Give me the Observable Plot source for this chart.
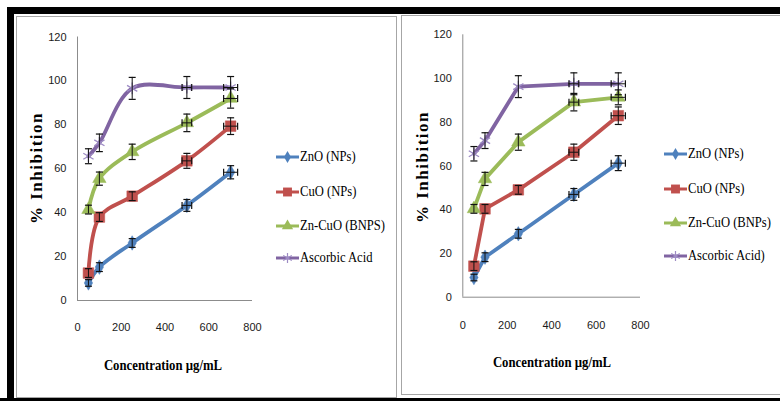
<!DOCTYPE html>
<html><head><meta charset="utf-8">
<script src="https://cdn.jsdelivr.net/npm/d3@7"></script>
<script src="https://cdn.jsdelivr.net/npm/@observablehq/plot@0.6"></script>
<style>
body{margin:0;background:#fff;}
#page{position:relative;width:780px;height:401px;overflow:hidden;background:#fff;}
.blk{position:absolute;background:#000;}
.frame{position:absolute;box-sizing:border-box;border:1.5px solid #a6a6a6;}
.xt{position:absolute;font-family:"Liberation Serif","Times New Roman","DejaVu Serif",serif;font-weight:bold;font-size:15px;white-space:nowrap;transform:translate(-50%,-50%) scaleX(0.85);color:#000;}
.yt{position:absolute;font-family:"Liberation Serif","Times New Roman","DejaVu Serif",serif;font-weight:bold;font-size:17px;letter-spacing:1.5px;white-space:nowrap;transform:translate(-50%,-50%) rotate(-90deg);color:#000;}
.leg{position:absolute;display:flex;align-items:center;height:20px;font-family:"Liberation Serif","Times New Roman","DejaVu Serif",serif;font-size:14px;color:#000;white-space:nowrap;}
.leg span{display:inline-block;transform:scaleX(0.9);transform-origin:left center;}
.leg svg{display:block;margin-right:1px;}
</style></head><body><div id="page"></div>
<script>
// ---- data ----
const concentrations = [50, 100, 250, 500, 700];
const xTicks = [0, 200, 400, 600, 800];
const yTicks = [0, 20, 40, 60, 80, 100, 120];
const namesA = ["ZnO (NPs)", "CuO (NPs)", "Zn-CuO (BNPS)", "Ascorbic Acid"];
const namesB = ["ZnO (NPs)", "CuO (NPs)", "Zn-CuO (BNPs)", "Ascorbic Acid)"];
const colors = ["#4F81BD", "#C0504D", "#9BBB59", "#8064A2"];
const symbols = ["diamond", "square", "triangle", "asterisk"];

// left panel values
const leftZnO = [8, 15.2, 26.2, 43.3, 58.4];
const leftCuO = [12.5, 38, 47.5, 63.6, 79.4];
const leftZnCuO = [41.4, 55.5, 67.7, 80.9, 92];
const leftAscorbic = [65.7, 71.8, 96.6, 97, 97];
const leftZnOErr = [1.5, 2, 2, 2.7, 3];
const leftCuOErr = [2, 2, 2, 3.4, 3.8];
const leftZnCuOErr = [2, 3, 3.5, 4, 4.4];
const leftAscorbicErr = [3.4, 4, 5, 5, 5];

// right panel values
const rightZnO = [9, 18.3, 29, 47, 61.3];
const rightCuO = [14.2, 40.4, 49.1, 66.3, 83];
const rightZnCuO = [40.4, 54.1, 70.9, 89.2, 91.4];
const rightAscorbic = [65.6, 71.6, 96.3, 97.6, 97.6];
const rightZnOErr = [1.5, 2, 2, 2.7, 3.4];
const rightCuOErr = [2, 2, 2, 3.7, 4];
const rightZnCuOErr = [2, 3, 3.7, 4, 3.4];
const rightAscorbicErr = [3.3, 3.6, 5, 5, 5];

// horizontal error (concentration)
const concErr = [0, 0, 0, 22, 32];

// ---- build ----
const page = document.getElementById("page");
function addDiv(cls, css, text) {
  const d = document.createElement("div");
  d.className = cls;
  Object.assign(d.style, css);
  if (text != null) d.textContent = text;
  page.appendChild(d);
  return d;
}

// frames
addDiv("frame", {left: "16px", top: "16px", width: "381px", height: "382px"});
addDiv("frame", {left: "401px", top: "15px", width: "400px", height: "380px"});
addDiv("blk", {left: "7px", top: "7px", width: "773px", height: "7px"});
addDiv("blk", {left: "7px", top: "7px", width: "7px", height: "394px"});
addDiv("blk", {left: "0px", top: "398px", width: "780px", height: "3px"});

const hcap = {draw(ctx, size) { ctx.moveTo(-3.5, 0); ctx.lineTo(3.5, 0); }};
const vcap = {draw(ctx, size) { ctx.moveTo(0, -3.5); ctx.lineTo(0, 3.5); }};
const radii = [4.4, 6, 5, 5.6];

function makeRows(names, ys, errs) {
  const rows = [];
  names.forEach((n, i) => concentrations.forEach((c, j) => rows.push({
    series: n, idx: i, x: c, y: ys[i][j], e: errs[i][j], xe: concErr[j]
  })));
  return rows;
}

function panel(names, ys, errs, curve, m) {
  const rows = makeRows(names, ys, errs);
  const marks = [
    Plot.ruleY([0], {stroke: "#8c8c8c", strokeWidth: 1}),
    Plot.ruleX([0], {stroke: "#8c8c8c", strokeWidth: 1}),
    Plot.axisX({ticks: xTicks, tickSize: 0, tickPadding: m.xpad, label: null}),
    Plot.axisY({ticks: yTicks, tickSize: 0, tickPadding: 11, label: null})
  ];
  names.forEach((n, i) => {
    const d = rows.filter(r => r.idx === i);
    marks.push(Plot.line(d, {x: "x", y: "y", stroke: colors[i], strokeWidth: 3.8, curve}));
  });
  names.forEach((n, i) => {
    const d = rows.filter(r => r.idx === i);
    if (symbols[i] === "asterisk")
      marks.push(Plot.dot(d, {x: "x", y: "y", symbol: "asterisk", r: radii[i], stroke: "#9d8bc4", strokeWidth: 1.3}));
    else
      marks.push(Plot.dot(d, {x: "x", y: "y", symbol: symbols[i], r: radii[i], fill: colors[i], stroke: colors[i], strokeWidth: 0.5}));
  });
  // error bars
  marks.push(Plot.ruleX(rows, {x: "x", y1: r => r.y - r.e, y2: r => r.y + r.e, stroke: "#111", strokeWidth: 1}));
  marks.push(Plot.dot(rows, {x: "x", y: r => r.y - r.e, symbol: hcap, stroke: "#111", strokeWidth: 1.2, r: 3}));
  marks.push(Plot.dot(rows, {x: "x", y: r => r.y + r.e, symbol: hcap, stroke: "#111", strokeWidth: 1.2, r: 3}));
  const hx = rows.filter(r => r.xe > 0);
  marks.push(Plot.ruleY(hx, {y: "y", x1: r => r.x - r.xe, x2: r => r.x + r.xe, stroke: "#111", strokeWidth: 1}));
  marks.push(Plot.dot(hx, {x: r => r.x - r.xe, y: "y", symbol: vcap, stroke: "#111", strokeWidth: 1.2, r: 3}));
  marks.push(Plot.dot(hx, {x: r => r.x + r.xe, y: "y", symbol: vcap, stroke: "#111", strokeWidth: 1.2, r: 3}));

  const svg = Plot.plot({
    width: 390, height: 401,
    marginLeft: m.left, marginRight: m.right, marginTop: m.top, marginBottom: m.bottom,
    x: {domain: [0, 800]},
    y: {domain: [0, 120]},
    style: {background: "none", fontFamily: "'Liberation Sans Narrow', 'Liberation Sans', Arial, sans-serif", fontSize: "11px", color: "#1a1a1a", overflow: "visible"},
    marks
  });
  svg.style.position = "absolute";
  svg.style.left = m.offset + "px";
  svg.style.top = "0px";
  page.appendChild(svg);
}

panel(namesA, [leftZnO, leftCuO, leftZnCuO, leftAscorbic],
      [leftZnOErr, leftCuOErr, leftZnCuOErr, leftAscorbicErr], "catmull-rom",
      {offset: 0, left: 77, right: 138, top: 36.5, bottom: 101, xpad: 23});
panel(namesB, [rightZnO, rightCuO, rightZnCuO, rightAscorbic],
      [rightZnOErr, rightCuOErr, rightZnCuOErr, rightAscorbicErr], "linear",
      {offset: 390, left: 72.3, right: 140, top: 34.3, bottom: 104.3, xpad: 24});

// axis titles
addDiv("xt", {left: "163px", top: "365px"}, "Concentration µg/mL");
addDiv("xt", {left: "552px", top: "362px"}, "Concentration µg/mL");
addDiv("yt", {left: "37px", top: "168px"}, "% Inhibition");
addDiv("yt", {left: "423px", top: "167px"}, "% Inhibition");

// legends
function legend(names, x, ys) {
  names.forEach((n, i) => {
    const row = addDiv("leg", {left: x + "px", top: (ys[i] - 10) + "px"});
    const s = d3.create("svg").attr("width", 23).attr("height", 14);
    s.append("line").attr("x1", 0).attr("x2", 23).attr("y1", 7).attr("y2", 7)
      .attr("stroke", colors[i]).attr("stroke-width", 3);
    const typ = {diamond: d3.symbolDiamond, square: d3.symbolSquare, triangle: d3.symbolTriangle, asterisk: d3.symbolAsterisk}[symbols[i]];
    const p = s.append("path").attr("transform", "translate(11.5,7)")
      .attr("d", d3.symbol(typ, Math.PI * radii[i] * radii[i] * 0.7)());
    if (symbols[i] === "asterisk") p.attr("fill", "none").attr("stroke", "#9d8bc4").attr("stroke-width", 1.2);
    else p.attr("fill", colors[i]);
    row.appendChild(s.node());
    const t = document.createElement("span");
    t.textContent = n;
    row.appendChild(t);
  });
}
legend(namesA, 276, [157, 192, 226, 258]);
legend(namesB, 664, [154, 189, 223, 256]);
</script>
</body></html>
